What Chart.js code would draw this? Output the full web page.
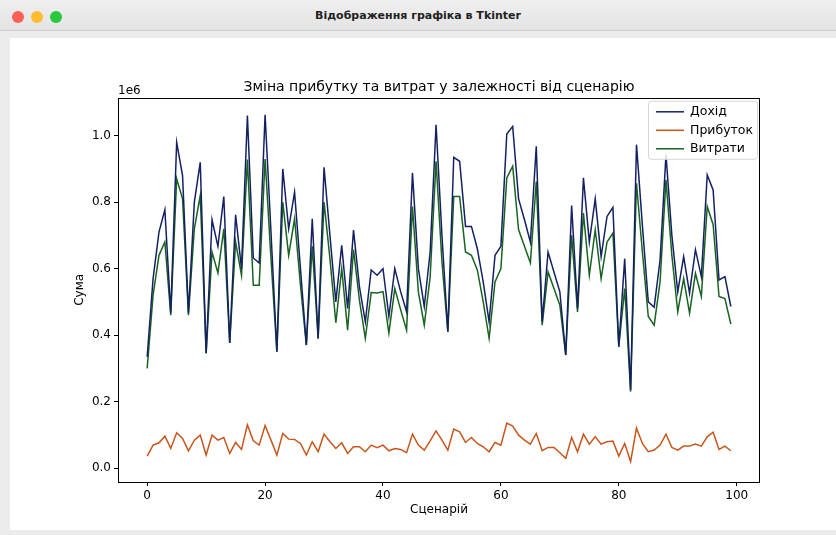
<!DOCTYPE html>
<html>
<head>
<meta charset="utf-8">
<script src="https://cdn.jsdelivr.net/npm/chart.js@4.4.1/dist/chart.umd.min.js"></script>
<style>
  html, body { margin: 0; padding: 0; width: 836px; height: 535px; overflow: hidden; background: #ececec; }
  #bar { position: absolute; left: 0; top: 0; width: 836px; height: 30px; background: linear-gradient(#efefef, #e4e4e4); border-bottom: 1px solid #cfcfcf; }
  .dot { position: absolute; top: 11px; width: 12px; height: 12px; border-radius: 50%; }
  #wtitle { position: absolute; left: 0; top: 9px; width: 836px; text-align: center; font: bold 11px "DejaVu Sans", sans-serif; color: #222; }
  #panel { position: absolute; left: 10px; top: 38px; width: 826px; height: 492px; background: #fff; }
  #chart { position: absolute; left: 0; top: 0; }
</style>
</head>
<body>
<div id="bar">
  <div class="dot" style="left:12px;background:#fe5f57"></div>
  <div class="dot" style="left:31px;background:#febc2e"></div>
  <div class="dot" style="left:50px;background:#28c840"></div>
  <div id="wtitle">Відображення графіка в Tkinter</div>
</div>
<div id="panel"></div>
<canvas id="chart" width="836" height="535"></canvas>
<script>
// сценарії 0..99
const scenarios = Array.from({ length: 100 }, (_, i) => i);

// Дохід
const revenue = [
  335000, 570000, 710000, 777000, 467000, 980000, 880000, 467000, 800000, 920000,
  346000, 747000, 667000, 817000, 376000, 762000, 600000, 1061000, 632000, 617000,
  1063000, 710000, 350000, 900000, 720000, 830000, 600000, 370000, 750000, 390000,
  905000, 700000, 500000, 670000, 480000, 716000, 546000, 440000, 596000, 580000,
  600000, 456000, 600000, 530000, 470000, 888000, 600000, 486000, 650000, 1033000,
  700000, 410000, 935000, 923000, 727000, 727000, 660000, 560000, 440000, 640000,
  667000, 1005000, 1028000, 810000, 747000, 680000, 968000, 440000, 650000, 590000,
  530000, 340000, 790000, 480000, 873000, 680000, 810000, 636000, 757000, 784000,
  365000, 630000, 235000, 973000, 730000, 500000, 484000, 626000, 943000, 700000,
  530000, 636000, 526000, 657000, 576000, 882000, 837000, 566000, 576000, 486000
];

// Прибуток
const profit = [
  36000, 69000, 76000, 96000, 59000, 106000, 89000, 52000, 84000, 99000,
  39000, 99000, 84000, 92000, 44000, 77000, 56000, 130000, 82000, 69000,
  128000, 84000, 39000, 104000, 87000, 86000, 74000, 39000, 79000, 49000,
  102000, 79000, 59000, 76000, 44000, 64000, 64000, 49000, 69000, 61000,
  69000, 52000, 59000, 56000, 46000, 102000, 69000, 54000, 82000, 112000,
  84000, 54000, 117000, 109000, 77000, 92000, 74000, 64000, 49000, 77000,
  69000, 135000, 126000, 99000, 84000, 72000, 104000, 52000, 62000, 62000,
  46000, 29000, 92000, 49000, 102000, 72000, 94000, 72000, 79000, 81000,
  36000, 74000, 19000, 120000, 74000, 49000, 54000, 69000, 102000, 62000,
  54000, 66000, 66000, 72000, 66000, 94000, 108000, 56000, 66000, 52000
];

// Витрати
const expenses = [
  300000, 520000, 640000, 680000, 460000, 870000, 810000, 460000, 720000, 820000,
  345000, 650000, 587000, 720000, 376000, 680000, 580000, 928000, 550000, 550000,
  930000, 630000, 350000, 800000, 640000, 750000, 550000, 370000, 667000, 390000,
  800000, 630000, 437000, 600000, 415000, 657000, 505000, 390000, 528000, 527000,
  531000, 406000, 540000, 476000, 415000, 787000, 530000, 430000, 575000, 923000,
  620000, 410000, 817000, 817000, 650000, 640000, 596000, 500000, 390000, 560000,
  600000, 873000, 908000, 717000, 667000, 617000, 862000, 430000, 590000, 540000,
  490000, 340000, 700000, 470000, 767000, 580000, 717000, 570000, 680000, 707000,
  365000, 540000, 230000, 857000, 650000, 456000, 430000, 560000, 867000, 640000,
  470000, 570000, 466000, 586000, 516000, 787000, 732000, 516000, 510000, 433000
];

const xTicks = [0, 20, 40, 60, 80, 100];
const yTicks = [0, 200000, 400000, 600000, 800000, 1000000];

const FONT = '"DejaVu Sans", sans-serif';

// рамка, множник 1e6 і легенда всередині графіка
const frame = {
  id: 'frame',
  afterDraw(chart) {
    const { ctx, chartArea: a } = chart;
    ctx.save();
    ctx.strokeStyle = '#000';
    ctx.lineWidth = 1;
    ctx.strokeRect(Math.round(a.left) + 0.5, Math.round(a.top) + 0.5,
      Math.round(a.right - a.left) - 1, Math.round(a.bottom - a.top));

    ctx.fillStyle = '#000';
    ctx.font = '12px ' + FONT;
    ctx.textBaseline = 'bottom';
    ctx.textAlign = 'left';
    ctx.fillText('1e6', a.left, a.top - 1);

    const x0 = a.right - 112, y0 = a.top + 3, w = 109, h = 58;
    ctx.fillStyle = 'rgba(255,255,255,0.85)';
    ctx.strokeStyle = '#d6d6d6';
    ctx.beginPath();
    ctx.roundRect(x0 + 0.5, y0 + 0.5, w, h, 3);
    ctx.fill();
    ctx.stroke();
    ctx.textBaseline = 'middle';
    ctx.font = '12.5px ' + FONT;
    chart.data.datasets.forEach((ds, i) => {
      const y = y0 + 11 + i * 18.5;
      ctx.strokeStyle = ds.borderColor;
      ctx.lineWidth = 1.5;
      ctx.beginPath();
      ctx.moveTo(x0 + 8, y);
      ctx.lineTo(x0 + 36, y);
      ctx.stroke();
      ctx.fillStyle = '#000';
      ctx.fillText(ds.label, x0 + 42, y);
    });
    ctx.restore();
  }
};

new Chart(document.getElementById('chart'), {
  type: 'line',
  data: {
    labels: scenarios,
    datasets: [
      { label: 'Дохід', data: revenue, borderColor: '#142063' },
      { label: 'Прибуток', data: profit, borderColor: '#c8561c' },
      { label: 'Витрати', data: expenses, borderColor: '#17631f' },
    ],
  },
  options: {
    responsive: false,
    animation: false,
    layout: { padding: { left: 73, right: 76, top: 79, bottom: 18 } },
    elements: { point: { radius: 0 }, line: { borderWidth: 1.5, tension: 0 } },
    plugins: {
      legend: { display: false },
      tooltip: { enabled: false },
      title: {
        display: true,
        fullSize: false,
        text: 'Зміна прибутку та витрат у залежності від сценарію',
        color: '#000',
        font: { family: FONT, size: 14, weight: 'normal' },
        padding: { top: 0, bottom: 2 },
      },
    },
    scales: {
      x: {
        type: 'linear',
        min: -4.95,
        max: 103.95,
        afterBuildTicks: (s) => { s.ticks = xTicks.map((v) => ({ value: v })); },
        afterFit: (s) => { s.height = 35; },
        ticks: { color: '#000', font: { family: FONT, size: 12 }, padding: 3, maxRotation: 0 },
        grid: { drawOnChartArea: false, drawTicks: true, tickLength: 4, tickColor: '#000' },
        border: { display: false },
        title: { display: true, text: 'Сценарій', color: '#000', font: { family: FONT, size: 12 }, padding: 0 },
      },
      y: {
        min: -42000,
        max: 1114000,
        afterBuildTicks: (s) => { s.ticks = yTicks.map((v) => ({ value: v })); },
        afterFit: (s) => { s.width = 45; },
        ticks: {
          color: '#000',
          font: { family: FONT, size: 12 },
          padding: 3,
          callback: (v) => (v / 1e6).toFixed(1),
        },
        grid: { drawOnChartArea: false, drawTicks: true, tickLength: 4, tickColor: '#000' },
        border: { display: false },
        title: { display: true, text: 'Сума', color: '#000', font: { family: FONT, size: 12 }, padding: 0 },
      },
    },
  },
  plugins: [frame],
});
</script>
</body>
</html>
